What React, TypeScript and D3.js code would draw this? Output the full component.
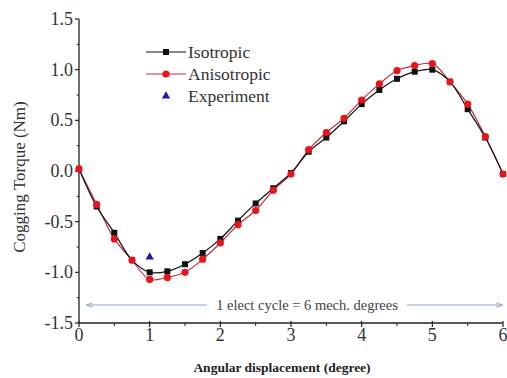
import React from "react";
import * as d3 from "d3";

// Angular positions (degrees) of the sampled rotor positions
const angles = [0, 0.25, 0.5, 0.75, 1, 1.25, 1.5, 1.75, 2, 2.25, 2.5, 2.75, 3, 3.25, 3.5, 3.75, 4, 4.25, 4.5, 4.75, 5, 5.25, 5.5, 5.75, 6];
// Cogging torque (Nm)
const isotropic = [0.02, -0.35, -0.61, -0.88, -1.0, -0.99, -0.92, -0.81, -0.67, -0.49, -0.32, -0.17, -0.02, 0.19, 0.33, 0.49, 0.66, 0.8, 0.91, 0.98, 1.0, 0.88, 0.61, 0.33, -0.03];
const anisotropic = [0.02, -0.33, -0.67, -0.88, -1.07, -1.05, -1.0, -0.87, -0.71, -0.53, -0.39, -0.19, -0.03, 0.21, 0.38, 0.52, 0.7, 0.86, 0.99, 1.04, 1.06, 0.88, 0.66, 0.34, -0.03];
const experimentX = [1];
const experimentY = [-0.85];

const xTicks = [0, 1, 2, 3, 4, 5, 6];
const xMinor = [0.5, 1.5, 2.5, 3.5, 4.5, 5.5];
const yTicks = [-1.5, -1.0, -0.5, 0.0, 0.5, 1.0, 1.5];
const yMinor = [-1.25, -0.75, -0.25, 0.25, 0.75, 1.25];

const W = 507;
const H = 378;
const left = 79;
const right = 503;
const top = 19;
const bottom = 323;
const FONT = "'Liberation Serif', 'Times New Roman', serif";

export default function App() {
  const x = d3.scaleLinear().domain([0, 6]).range([left, right]);
  const y = d3.scaleLinear().domain([-1.5, 1.5]).range([bottom, top]);

  const line = d3
    .line<number>()
    .x((_, i) => x(angles[i]))
    .y((d) => y(d))
    .curve(d3.curveCatmullRom.alpha(0.5));

  const tri = d3.symbol().type(d3.symbolTriangle).size(30)();

  return (
    <svg width={W} height={H} style={{ position: "absolute", left: 0, top: 0, background: "#fff" }}>
      <defs>
        <marker id="ah" viewBox="0 0 10 10" refX="9" refY="5" markerWidth="7" markerHeight="7" orient="auto-start-reverse">
          <path d="M0,1.5 L10,5 L0,8.5" fill="none" stroke="#8fa3b8" strokeWidth="1.2" />
        </marker>
      </defs>

      {/* axes */}
      <line x1={left} y1={top} x2={left} y2={bottom} stroke="#222" strokeWidth={1.3} />
      <line x1={left} y1={bottom} x2={right} y2={bottom} stroke="#222" strokeWidth={1.3} />
      {yTicks.map((t) => (
        <g key={"y" + t}>
          <line x1={left - 4} x2={left} y1={y(t)} y2={y(t)} stroke="#222" strokeWidth={1.2} />
          <text x={left - 6} y={y(t) + 6} textAnchor="end" fontFamily={FONT} fontSize={18} fill="#333">
            {t.toFixed(1)}
          </text>
        </g>
      ))}
      {yMinor.map((t) => (
        <line key={"ym" + t} x1={left - 2.5} x2={left} y1={y(t)} y2={y(t)} stroke="#222" strokeWidth={1} />
      ))}
      {xTicks.map((t) => (
        <g key={"x" + t}>
          <line x1={x(t)} x2={x(t)} y1={bottom - 2} y2={bottom + 4} stroke="#222" strokeWidth={1.2} />
          <text x={x(t)} y={bottom + 18} textAnchor="middle" fontFamily={FONT} fontSize={18} fill="#333">
            {t}
          </text>
        </g>
      ))}
      {xMinor.map((t) => (
        <line key={"xm" + t} x1={x(t)} x2={x(t)} y1={bottom} y2={bottom + 3} stroke="#222" strokeWidth={1} />
      ))}

      {/* axis titles */}
      <text x={282} y={372} textAnchor="middle" fontFamily={FONT} fontSize={13.5} fontWeight="bold" fill="#222">
        Angular displacement (degree)
      </text>
      <text
        transform={`translate(25, ${177}) rotate(-90)`}
        textAnchor="middle"
        fontFamily={FONT}
        fontSize={17}
        fill="#333"
      >
        Cogging Torque (Nm)
      </text>

      {/* cycle annotation */}
      <line x1={207} y1={305} x2={87} y2={305} stroke="#8fa3b8" strokeWidth={1} markerEnd="url(#ah)" />
      <line x1={407} y1={305} x2={502} y2={305} stroke="#8fa3b8" strokeWidth={1} markerEnd="url(#ah)" />
      <text x={307} y={310} textAnchor="middle" fontFamily={FONT} fontSize={14.5} fill="#444">
        1 elect cycle = 6 mech. degrees
      </text>

      {/* series */}
      <path d={line(anisotropic) ?? ""} fill="none" stroke="#c0303a" strokeWidth={1.2} />
      <path d={line(isotropic) ?? ""} fill="none" stroke="#111" strokeWidth={1.2} />
      {isotropic.map((v, i) => (
        <rect key={"i" + i} x={x(angles[i]) - 3} y={y(v) - 3} width={6} height={6} fill="#111" />
      ))}
      {anisotropic.map((v, i) => (
        <circle key={"a" + i} cx={x(angles[i])} cy={y(v)} r={3.6} fill="#e8141c" />
      ))}
      {experimentX.map((v, i) => (
        <path key={"e" + i} d={tri ?? ""} transform={`translate(${x(v)},${y(experimentY[i])})`} fill="#1a1aa8" />
      ))}

      {/* legend */}
      <g fontFamily={FONT} fontSize={17.5} fill="#333">
        <line x1={146} x2={186} y1={52} y2={52} stroke="#111" strokeWidth={1.2} />
        <rect x={163} y={49} width={6} height={6} fill="#111" />
        <text x={188} y={58}>Isotropic</text>
        <line x1={146} x2={186} y1={74} y2={74} stroke="#c0303a" strokeWidth={1.2} />
        <circle cx={166} cy={74} r={3.6} fill="#e8141c" />
        <text x={188} y={80}>Anisotropic</text>
        <path d={tri ?? ""} transform="translate(166,96)" fill="#1a1aa8" />
        <text x={188} y={102}>Experiment</text>
      </g>
    </svg>
  );
}
